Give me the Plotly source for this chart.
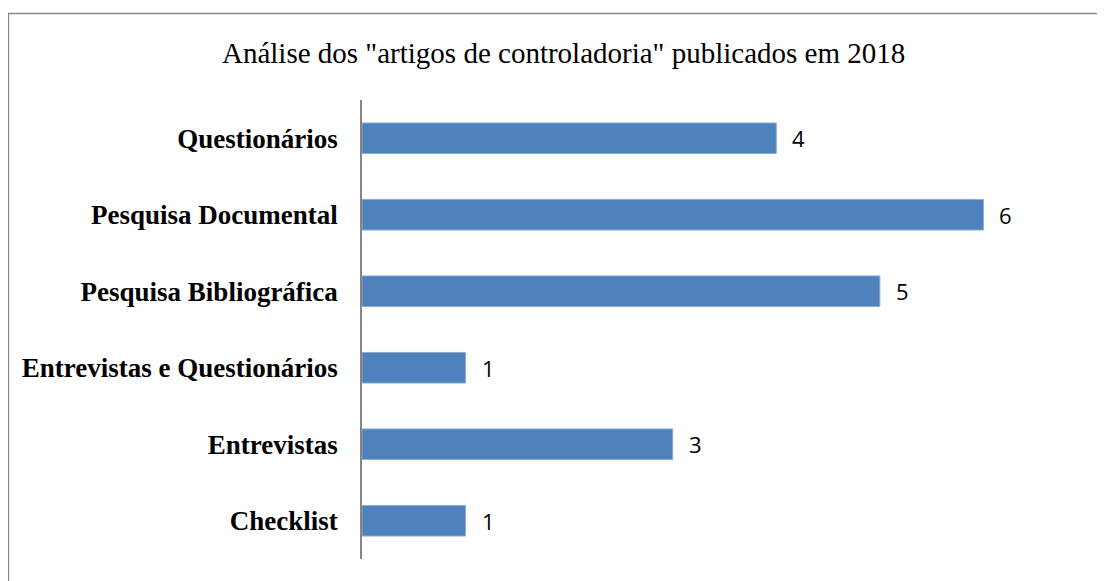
import plotly.graph_objects as go

categorias = ['Checklist', 'Entrevistas', 'Entrevistas e Questionários',
              'Pesquisa Bibliográfica', 'Pesquisa Documental', 'Questionários']
artigos = [1, 3, 1, 5, 6, 4]

titulo = 'Análise dos "artigos de controladoria" publicados em 2018'

# the page body adds an 8px offset; positions below are screen pixels
OFF = 8
plot_l, plot_r, plot_t, plot_b = 362 - OFF, 1087 - OFF, 100 - OFF, 559 - OFF
def px(xs):
    return (xs - OFF - plot_l) / (plot_r - plot_l)
def py(ys):
    return (plot_b - (ys - OFF)) / (plot_b - plot_t)

fig = go.Figure()
fig.add_trace(go.Bar(
    x=artigos, y=categorias, orientation='h', width=0.4,
    marker=dict(color='#4F81BD', line=dict(color='#8EACD4', width=1)),
    hoverinfo='x+y'))

# value labels beside the bars
annotations = []
for cat, v in zip(categorias, artigos):
    annotations.append(dict(x=v, y=cat, xref='x', yref='y', text=str(v),
        showarrow=False, xanchor='left', yanchor='middle', xshift=14,
        font=dict(family='Open Sans, Liberation Sans, sans-serif', size=22, color='#000000')))

annotations.append(dict(x=px(563), y=py(53), xref='paper', yref='paper', text=titulo,
    showarrow=False, xanchor='center', yanchor='middle',
    font=dict(family='Liberation Serif, Times New Roman, serif', size=29, color='#000000')))

# outer chart border (only left and top visible in the frame)
shapes = [dict(type='rect', xref='paper', yref='paper',
    x0=px(8.5), x1=px(1140), y0=py(13.5), y1=py(640),
    line=dict(color='#868686', width=1.3), fillcolor='rgba(0,0,0,0)', layer='below')]

fig.update_layout(
    width=1105, height=581,
    margin=dict(l=plot_l, r=1105 - plot_r, t=plot_t, b=581 - plot_b),
    paper_bgcolor='white', plot_bgcolor='white',
    showlegend=False, annotations=annotations, shapes=shapes,
    xaxis=dict(range=[0, 7], showgrid=False, zeroline=False, showticklabels=False,
               showline=False, fixedrange=True),
    yaxis=dict(range=[-0.5, 5.5], showgrid=False, zeroline=False, showline=True,
               linecolor='#868686', linewidth=1.5, ticks='', ticklabelstandoff=17,
               tickfont=dict(family='Liberation Serif, Times New Roman, serif', size=27,
                             color='#000000', weight='bold'),
               fixedrange=True),
)

fig.write_html("out.html")
